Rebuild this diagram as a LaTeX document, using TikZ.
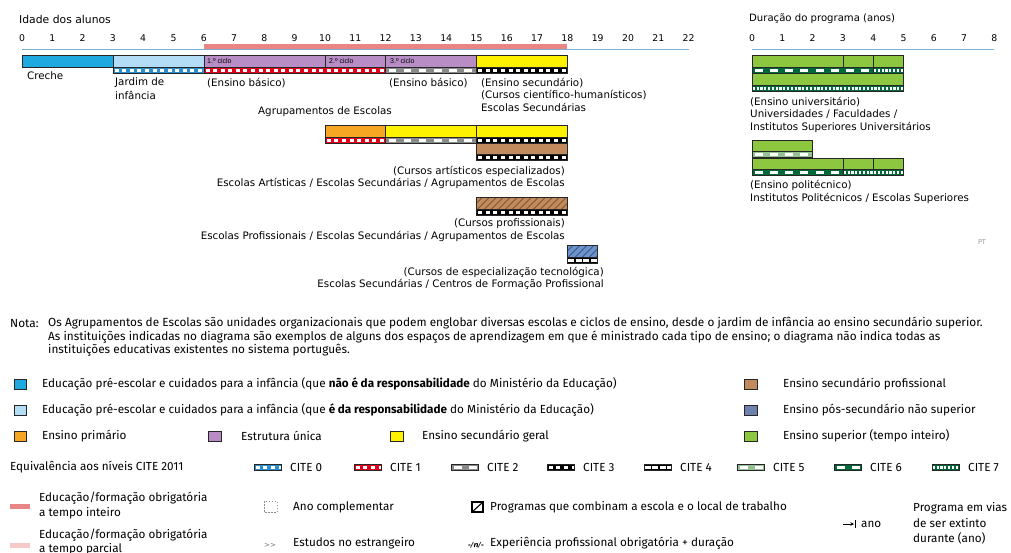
\documentclass[tikz,border=0pt]{standalone}
\usepackage{fontspec}
\setmainfont{DejaVu Sans}
\newfontfamily\legf{Fira Sans}
\newfontfamily\smallf{Liberation Sans}
\usetikzlibrary{arrows.meta}
\definecolor{crecheblue}{HTML}{1FA9E1}
\definecolor{jardimblue}{HTML}{B3DDF6}
\definecolor{purp}{HTML}{B88DC5}
\definecolor{yel}{HTML}{FFF200}
\definecolor{orng}{HTML}{F6A623}
\definecolor{brwn}{HTML}{C18B5D}
\definecolor{brwnd}{HTML}{7A4B25}
\definecolor{slate}{HTML}{6F82AE}
\definecolor{hblue}{HTML}{6C93CC}
\definecolor{hblued}{HTML}{2F4F80}
\definecolor{grn}{HTML}{8DC63F}
\definecolor{dgrn}{HTML}{00693A}
\definecolor{lgrn}{HTML}{94C093}
\definecolor{cred}{HTML}{E2001A}
\definecolor{cblue}{HTML}{2B8FCB}
\definecolor{cgrey}{HTML}{8A8A8A}
\definecolor{compred}{HTML}{E98585}
\definecolor{comppink}{HTML}{F7C9C9}
\definecolor{axisblue}{HTML}{7BAFD4}
\tikzset{
 bgA/.style={fill=cblue}, fgA/.style={white,dash pattern=on 4pt off 3.57pt,dash phase=-1.8pt},
 bgB/.style={fill=cred}, fgB/.style={white,dash pattern=on 4pt off 3.57pt,dash phase=-1.8pt},
 bgC/.style={fill=cgrey}, fgC/.style={white,dash pattern=on 7.5pt off 7.65pt,dash phase=-3pt},
 bgD/.style={fill=black}, fgD/.style={white,dash pattern=on 4pt off 3.57pt,dash phase=-1.8pt},
 bgE/.style={fill=black}, fgE/.style={white,dash pattern=on 6.3pt off 1.27pt,dash phase=-0.6pt},
 bgF/.style={fill=lgrn}, fgF/.style={white,dash pattern=on 7.5pt off 7.65pt,dash phase=-3pt},
 bgG/.style={fill=dgrn}, fgG/.style={white,dash pattern=on 8pt off 7.15pt,dash phase=-3pt},
 bgH/.style={fill=dgrn}, fgH/.style={white,dash pattern=on 2.3pt off 1.5pt,dash phase=-0.7pt},
 barbox/.style={draw=black!85, line width=0.6pt},
 lab/.style={font=\fontsize{10.3}{12}\selectfont, anchor=west, inner sep=0pt},
 labr/.style={font=\fontsize{10.3}{12}\selectfont, anchor=east, inner sep=0pt},
 tick/.style={font=\fontsize{9.3}{10}\selectfont, inner sep=0pt},
 leg/.style={font=\legf\fontsize{11.7}{14}\selectfont, anchor=west, inner sep=0pt},
 note/.style={font=\legf\fontsize{11.8}{14}\selectfont, anchor=west, inner sep=0pt},
 cyc/.style={font=\smallf\fontsize{7}{8}\selectfont, anchor=west, inner sep=0pt},
}
\newcommand\stripe[4]{%
 \fill[bg#4] (#1,#3) rectangle (#2,#3+6);
 \draw[line width=3pt, fg#4] (#1,#3+3) -- (#2,#3+3);
 \draw[line width=0.6pt, black!85] (#1,#3) rectangle (#2,#3+6);}
\newcommand\hatchbox[6]{%
 \begin{scope}
 \clip (#1,#2) rectangle (#3,#4);
 \fill[#5] (#1,#2) rectangle (#3,#4);
 \foreach \k in {-20,-13,...,100} \draw[#6, line width=0.7pt] ({#1+\k},#4) -- ++(16,-16);
 \end{scope}
 \draw[barbox] (#1,#2) rectangle (#3,#4);}
\begin{document}
\begin{tikzpicture}[x=1pt,y=-1pt]
\useasboundingbox[fill=white] (0,0) rectangle (1011,552);
% ---------- age axis ----------
\node[lab, font=\fontsize{10.8}{12}\selectfont] (idade) at (19,19) {Idade dos alunos};
\foreach \i in {0,...,22} \node[tick] (a\i) at ({22+30.3*\i},38) {\i};
\draw[axisblue, line width=1pt] (22,49) -- (688.6,49);
\fill[compred] (203.8,43.5) rectangle (567.4,48.5);
% ---------- row 1 ----------
\filldraw[barbox, fill=crecheblue] (22,55) rectangle (112.9,67);
\filldraw[barbox, fill=jardimblue] (112.9,55) rectangle (203.8,67);
\filldraw[barbox, fill=purp] (203.8,55) rectangle (325,67);
\filldraw[barbox, fill=purp] (325,55) rectangle (385.6,67);
\filldraw[barbox, fill=purp] (385.6,55) rectangle (476.5,67);
\filldraw[barbox, fill=yel] (476.5,55) rectangle (567.4,67);
\node[cyc] (c1) at (207,61) {1.º ciclo};
\node[cyc] (c2) at (329,61) {2.º ciclo};
\node[cyc] (c3) at (390,61) {3.º ciclo};
\stripe{112.9}{203.8}{67}{A}
\stripe{203.8}{385.6}{67}{B}
\stripe{385.6}{476.5}{67}{C}
\stripe{476.5}{567.4}{67}{D}
\node[lab] (creche) at (27,76) {Creche};
\node[lab] (jard1) at (115,83) {Jardim de};
\node[lab] (jard2) at (115,95) {infância};
\node[lab] (eb1) at (207,83) {(Ensino básico)};
\node[lab] (eb2) at (389,83) {(Ensino básico)};
\node[lab] (es1) at (481,83) {(Ensino secundário)};
\node[lab] (es2) at (481,95) {(Cursos científico-humanísticos)};
\node[lab] (es3) at (481,107) {Escolas Secundárias};
\node[lab] (agr) at (258,112) {Agrupamentos de Escolas};
% ---------- row 2 ----------
\filldraw[barbox, fill=orng] (325,125) rectangle (385.6,137);
\filldraw[barbox, fill=yel] (385.6,125) rectangle (476.5,137);
\filldraw[barbox, fill=yel] (476.5,125) rectangle (567.4,137);
\stripe{325}{385.6}{137}{B}
\stripe{385.6}{476.5}{137}{C}
\stripe{476.5}{567.4}{137}{D}
\filldraw[barbox, fill=brwn] (476.5,143) rectangle (567.4,154);
\stripe{476.5}{567.4}{154}{D}
\node[labr] (art1) at (565,171) {(Cursos artísticos especializados)};
\node[labr] (art2) at (565,183) {Escolas Artísticas / Escolas Secundárias / Agrupamentos de Escolas};
% ---------- row 3 ----------
\hatchbox{476.5}{197}{567.4}{209}{brwn}{brwnd}
\stripe{476.5}{567.4}{209}{D}
\node[labr] (pro1) at (565,224) {(Cursos profissionais)};
\node[labr] (pro2) at (565,236) {Escolas Profissionais / Escolas Secundárias / Agrupamentos de Escolas};
% ---------- row 4 ----------
\hatchbox{567.4}{245}{597.7}{257}{hblue}{hblued}
\stripe{567.4}{597.7}{257}{E}
\node[labr] (cet1) at (604,272) {(Cursos de especialização tecnológica)};
\node[labr] (cet2) at (604,284) {Escolas Secundárias / Centros de Formação Profissional};
% ---------- right panel ----------
\node[lab, font=\fontsize{10.1}{12}\selectfont] (dur) at (749,19) {Duração do programa (anos)};
\foreach \i in {0,...,8} \node[tick] (d\i) at ({752+30.3*\i},38) {\i};
\draw[axisblue, line width=1pt] (752,49) -- (994,49);
\filldraw[barbox, fill=grn] (752,55) rectangle (843,67);
\filldraw[barbox, fill=grn] (843,55) rectangle (873.2,67);
\filldraw[barbox, fill=grn] (873.2,55) rectangle (903.5,67);
\stripe{752}{873.2}{67}{G}
\stripe{873.2}{903.5}{67}{H}
\filldraw[barbox, fill=grn] (752,73) rectangle (903.5,85);
\stripe{752}{903.5}{85}{H}
\node[lab] (u1) at (750,102) {(Ensino universitário)};
\node[lab] (u2) at (750,114) {Universidades / Faculdades /};
\node[lab] (u3) at (750,127) {Institutos Superiores Universitários};
\filldraw[barbox, fill=grn] (752,140) rectangle (812.6,151);
\stripe{752}{812.6}{151}{F}
\filldraw[barbox, fill=grn] (752,158) rectangle (843,169);
\filldraw[barbox, fill=grn] (843,158) rectangle (873.2,169);
\filldraw[barbox, fill=grn] (873.2,158) rectangle (903.5,169);
\stripe{752}{843}{169}{G}
\stripe{843}{903.5}{169}{H}
\node[lab] (p1) at (750,185) {(Ensino politécnico)};
\node[lab] (p2) at (750,198) {Institutos Politécnicos / Escolas Superiores};
\node[font=\fontsize{6.5}{8}\selectfont, text=black!40, inner sep=0pt] (pt) at (982,242) {PT};
% ---------- note ----------
\node[note] (nota) at (10,323) {Nota:};
\node[note] (n1) at (48,323) {Os Agrupamentos de Escolas são unidades organizacionais que podem englobar diversas escolas e ciclos de ensino, desde o jardim de infância ao ensino secundário superior.};
\node[note] (n2) at (48,337) {As instituições indicadas no diagrama são exemplos de alguns dos espaços de aprendizagem em que é ministrado cada tipo de ensino; o diagrama não indica todas as};
\node[note] (n3) at (48,350) {instituições educativas existentes no sistema português.};
% ---------- legend ----------
\filldraw[barbox, fill=crecheblue] (14,379) rectangle (26,389);
\node[leg] (l1) at (42,384) {Educação pré-escolar e cuidados para a infância (que \textbf{não é da responsabilidade} do Ministério da Educação)};
\filldraw[barbox, fill=jardimblue] (14,405) rectangle (26,415);
\node[leg] (l2) at (42,410) {Educação pré-escolar e cuidados para a infância (que \textbf{é da responsabilidade} do Ministério da Educação)};
\filldraw[barbox, fill=orng] (14,431) rectangle (26,441);
\node[leg] (l3) at (42,436) {Ensino primário};
\filldraw[barbox, fill=purp] (208,431) rectangle (221,441);
\node[leg] (l4) at (241,436) {Estrutura única};
\filldraw[barbox, fill=yel] (390,431) rectangle (403,441);
\node[leg] (l5) at (422,436) {Ensino secundário geral};
\filldraw[barbox, fill=brwn] (744,379) rectangle (757,389);
\node[leg] (l6) at (783,384) {Ensino secundário profissional};
\filldraw[barbox, fill=slate] (744,405) rectangle (757,415);
\node[leg] (l7) at (783,410) {Ensino pós-secundário não superior};
\filldraw[barbox, fill=grn] (744,431) rectangle (757,441);
\node[leg] (l8) at (783,436) {Ensino superior (tempo inteiro)};
% ---------- ISCED legend ----------
\node[leg] (eq) at (10,467) {Equivalência aos níveis CITE 2011};
\stripe{254}{281}{464}{A} \node[leg] (k0) at (290,467) {CITE 0};
\stripe{354}{381}{464}{B} \node[leg] (k1) at (390,467) {CITE 1};
\stripe{451}{478}{464}{C} \node[leg] (k2) at (487,467) {CITE 2};
\stripe{547}{574}{464}{D} \node[leg] (k3) at (583,467) {CITE 3};
\stripe{644}{671}{464}{E} \node[leg] (k4) at (680,467) {CITE 4};
\stripe{737}{764}{464}{F} \node[leg] (k5) at (773,467) {CITE 5};
\stripe{834}{861}{464}{G} \node[leg] (k6) at (870,467) {CITE 6};
\stripe{932}{959}{464}{H} \node[leg] (k7) at (968,467) {CITE 7};
% ---------- bottom legend ----------
\fill[compred] (10,504) rectangle (30,509);
\node[leg] (ct1) at (39,498) {Educação/formação obrigatória};
\node[leg] (ct2) at (39,513) {a tempo inteiro};
\fill[comppink] (10,543) rectangle (30,548);
\node[leg] (pt1) at (39,535) {Educação/formação obrigatória};
\node[leg] (pt2) at (39,549) {a tempo parcial};
\draw[black!45, line width=0.5pt, dash pattern=on 1.5pt off 1.5pt] (264,501) rectangle (277,512);
\node[leg] (anoc) at (293,507) {Ano complementar};
\node[font=\fontsize{7}{8}\selectfont, text=black!55, inner sep=0pt] (gt) at (270,545) {>{}>};
\node[leg] (estr) at (293,543) {Estudos no estrangeiro};
\draw[line width=1.1pt] (472,502) rectangle (483,512);
\draw[line width=1.1pt] (472,512) -- (483,502);
\node[leg] (prog) at (490,507) {Programas que combinam a escola e o local de trabalho};
\node[font=\fontsize{7}{8}\selectfont\bfseries\itshape, inner sep=0pt] (npn) at (476,545) {-/n/-};
\node[leg] (expe) at (490,543) {Experiência profissional obrigatória + duração};
\coordinate (ar1) at (843,524);
\coordinate (ar2) at (854,524);
\draw[line width=0.8pt, -{Stealth[length=3.5pt,width=3.5pt]}] (ar1) -- (ar2);
\draw[line width=0.8pt] (855,520) -- (855,528);
\node[leg] (ano) at (861,524) {ano};
\node[leg] (pv1) at (913,508) {Programa em vias};
\node[leg] (pv2) at (913,523) {de ser extinto};
\node[leg] (pv3) at (913,538) {durante (ano)};
\end{tikzpicture}
\end{document}
